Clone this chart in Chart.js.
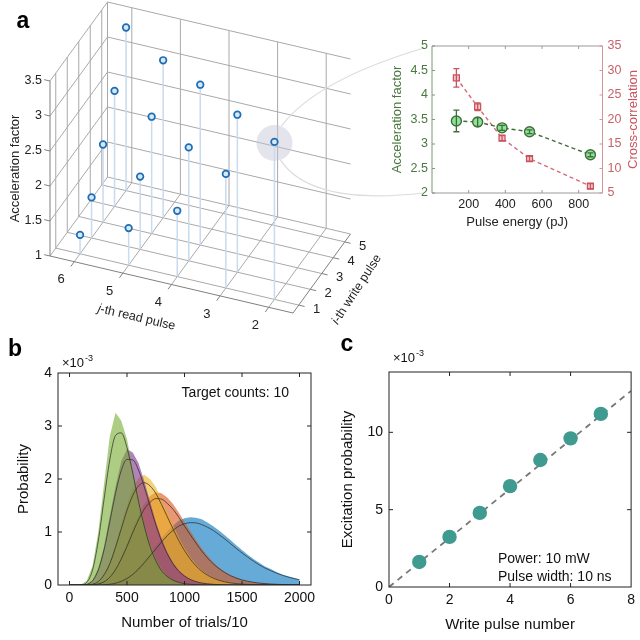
<!DOCTYPE html>
<html><head><meta charset="utf-8">
<script src="https://cdn.jsdelivr.net/npm/chart.js@4.4.0/dist/chart.umd.min.js"></script>
<style>
html,body{margin:0;padding:0;background:#fff;width:640px;height:640px;overflow:hidden}
canvas{position:absolute;left:0;top:0}
</style></head><body>
<canvas id="c3d" width="640" height="640"></canvas>
<canvas id="cin" width="640" height="640"></canvas>
<canvas id="cb" width="640" height="640"></canvas>
<canvas id="cc" width="640" height="640"></canvas>
<script>
// ================= DATA =================
// panel a (3D stem plot)
const writePulse  = [1,1,1,1,1, 2,2,2,2, 3,3,3, 4,4, 5];
const readPulse   = [2,3,4,5,6, 3,4,5,6, 4,5,6, 5,6, 6];
const accelFactor = [3.25,2.63,1.94,1.53,1.27, 3.25,2.62,2.04,1.58, 3.29,2.67,2.11, 3.25,2.65, 3.33];
const zTicks      = [1,1.5,2,2.5,3,3.5];
const readTicks   = [2,3,4,5,6];
const writeTicks  = [1,2,3,4,5];
const highlightIndex = 0; // write 1, read 2

// panel a inset
const pulseEnergy   = [133,249,382,532,864];
const accelVsEnergy = [3.47,3.45,3.33,3.25,2.78];
const accelErr      = [0.22,0.09,0.05,0.04,0.04];
const crossCorr     = [28.5,22.6,16.2,12.0,6.4];
const crossErr      = [1.9,0.8,0.5,0.5,0.5];
const energyTicks   = [200,400,600,800];
const accelTicks    = [2,2.5,3,3.5,4,4.5,5];
const crossTicks    = [5,10,15,20,25,30,35];

// panel b (histograms, units 1e-3)
const trialBins = [0,50,100,150,200,250,300,350,400,450,500,550,600,650,700,750,800,850,900,950,1000,
                   1050,1100,1150,1200,1250,1300,1350,1400,1450,1500,1550,1600,1650,1700,1750,1800,1850,1900,1950,2000];
const histGreen  = [0,0,0.01,0.08,0.36,1.0,1.9,2.8,3.25,3.1,2.75,2.2,1.68,1.16,0.78,0.5,0.3,0.17,0.1,0.055,0.03,0.015,0.007,0.003,0,0,0,0,0,0,0,0,0,0,0,0,0,0,0,0,0];
const histPurple = [0,0,0.002,0.016,0.09,0.31,0.72,1.3,1.86,2.34,2.56,2.5,2.3,1.96,1.58,1.2,0.88,0.62,0.42,0.28,0.18,0.11,0.068,0.04,0.024,0.014,0.008,0.004,0.002,0,0,0,0,0,0,0,0,0,0,0,0];
const histYellow = [0,0,0,0.003,0.018,0.07,0.21,0.43,0.77,1.15,1.52,1.83,2.02,2.08,2.0,1.85,1.62,1.38,1.13,0.9,0.7,0.53,0.39,0.28,0.2,0.14,0.095,0.064,0.042,0.028,0.018,0.012,0.008,0.005,0.003,0.002,0,0,0,0,0];
const histOrange = [0,0,0,0,0.005,0.021,0.066,0.16,0.31,0.53,0.79,1.07,1.33,1.53,1.68,1.75,1.73,1.65,1.53,1.37,1.19,1.02,0.85,0.69,0.55,0.43,0.33,0.25,0.19,0.14,0.1,0.075,0.054,0.039,0.028,0.02,0.014,0.01,0.007,0.005,0.003];
const histBlue   = [0,0,0,0,0,0.001,0.006,0.016,0.038,0.075,0.135,0.22,0.33,0.46,0.6,0.74,0.88,1.01,1.12,1.21,1.26,1.28,1.27,1.24,1.18,1.11,1.03,0.94,0.85,0.75,0.66,0.57,0.49,0.42,0.35,0.3,0.245,0.2,0.165,0.135,0.105];
const fitGreen   = [0,0,0.003,0.05,0.28,0.83,1.61,2.36,2.82,2.87,2.59,2.11,1.58,1.11,0.73,0.46,0.27,0.16,0.09,0.05,0.025,0.013,0.006,0.003,0,0,0,0,0,0,0,0,0,0,0,0,0,0,0,0,0];
const fitPurple  = [0,0,0.001,0.012,0.078,0.28,0.66,1.19,1.73,2.16,2.37,2.36,2.17,1.85,1.49,1.14,0.83,0.59,0.40,0.26,0.17,0.105,0.064,0.038,0.022,0.013,0.007,0.004,0.002,0,0,0,0,0,0,0,0,0,0,0,0];
const fitYellow  = [0,0,0,0.002,0.015,0.065,0.19,0.40,0.71,1.06,1.41,1.69,1.87,1.93,1.87,1.73,1.52,1.29,1.06,0.84,0.65,0.49,0.36,0.26,0.185,0.13,0.088,0.059,0.039,0.026,0.017,0.011,0.007,0.004,0.003,0.002,0,0,0,0,0];
const fitOrange  = [0,0,0,0,0.004,0.019,0.06,0.146,0.29,0.49,0.73,0.99,1.23,1.43,1.56,1.63,1.62,1.54,1.43,1.28,1.11,0.95,0.79,0.64,0.51,0.40,0.31,0.235,0.176,0.13,0.096,0.07,0.05,0.036,0.026,0.018,0.013,0.009,0.006,0.004,0.003];
const fitBlue    = [0,0,0,0,0,0.001,0.005,0.014,0.034,0.069,0.124,0.20,0.30,0.42,0.55,0.68,0.81,0.93,1.03,1.11,1.155,1.176,1.171,1.14,1.09,1.03,0.95,0.87,0.78,0.69,0.605,0.525,0.45,0.38,0.32,0.27,0.224,0.184,0.15,0.122,0.098];
const trialTicks = [0,500,1000,1500,2000];
const probTicks  = [0,1,2,3,4];

// panel c
const writeNumber   = [1,2,3,4,5,6,7];
const excitationProb= [1.62,3.24,4.79,6.52,8.21,9.61,11.19];
const fitLineX      = [0,8];
const fitLineY      = [0,12.68];
const writeNumTicks = [0,2,4,6,8];
const excTicks      = [0,5,10];

// ================= STYLE / HELPERS =================
const FONT = "'Liberation Sans', Arial, Helvetica, sans-serif";
Chart.defaults.font.family = FONT;
Chart.defaults.animation = false;
const baseOpts = {responsive:false, animation:false, events:[], plugins:{legend:{display:false}, tooltip:{enabled:false}}};
const setTicks = vals => s => { s.ticks = vals.map(v => ({value:v})); };
const plainLabel = v => String(v);
const pts = (xs, ys) => xs.map((x,k) => ({x, y:ys[k]}));

function drawExp(ctx, x, y, color){
  ctx.save(); ctx.fillStyle = color || '#111'; ctx.textBaseline='alphabetic'; ctx.textAlign='left';
  ctx.font = '13px ' + FONT; ctx.fillText('×10', x, y);
  const w = ctx.measureText('×10').width;
  ctx.font = '9px ' + FONT; ctx.fillText('-3', x + w + 1, y - 6);
  ctx.restore();
}
function panelLabel(ctx, t, x, y){
  ctx.save(); ctx.font = 'bold 23px ' + FONT; ctx.fillStyle = '#000';
  ctx.textAlign='center'; ctx.textBaseline='middle'; ctx.fillText(t, x, y); ctx.restore();
}
function frameWithTicks(chart, xs, ys, color){
  const {ctx, chartArea:a} = chart;
  const X = chart.scales.x, Y = chart.scales.y;
  ctx.save(); ctx.strokeStyle = color; ctx.lineWidth = 1;
  ctx.strokeRect(a.left, a.top, a.right - a.left, a.bottom - a.top);
  ctx.beginPath();
  xs.forEach(v => { const p = X.getPixelForValue(v); if (p > a.left+1 && p < a.right-1){ ctx.moveTo(p, a.bottom); ctx.lineTo(p, a.bottom-4); ctx.moveTo(p, a.top); ctx.lineTo(p, a.top+4);} });
  ys.forEach(v => { const p = Y.getPixelForValue(v); if (p > a.top+1 && p < a.bottom-1){ ctx.moveTo(a.left, p); ctx.lineTo(a.left+4, p); ctx.moveTo(a.right, p); ctx.lineTo(a.right-4, p);} });
  ctx.stroke(); ctx.restore();
}

// ================= INSET (panel a, right) =================
const GREEN_D = '#3f6e37', GREEN_F = '#8ee29b', RED_D = '#c8545f', RED_F = '#f6c8cb';
const insetPlugin = {
  id:'insetDeco',
  afterDatasetsDraw(chart){
    const {ctx} = chart;
    const X = chart.scales.x, L = chart.scales.yL, R = chart.scales.yR;
    ctx.save(); ctx.lineWidth = 1.3;
    const eb = (xs, ys, es, sc, col) => {
      ctx.strokeStyle = col; ctx.beginPath();
      xs.forEach((x,k) => {
        const px = X.getPixelForValue(x), p1 = sc.getPixelForValue(ys[k]-es[k]), p2 = sc.getPixelForValue(ys[k]+es[k]);
        ctx.moveTo(px, p1); ctx.lineTo(px, p2);
        ctx.moveTo(px-3, p1); ctx.lineTo(px+3, p1); ctx.moveTo(px-3, p2); ctx.lineTo(px+3, p2);
      });
      ctx.stroke();
    };
    eb(pulseEnergy, accelVsEnergy, accelErr, L, GREEN_D);
    eb(pulseEnergy, crossCorr, crossErr, R, RED_D);
    ctx.restore();
  },
  afterDraw(chart){
    const {ctx, chartArea:a} = chart;
    const X = chart.scales.x, L = chart.scales.yL, R = chart.scales.yR;
    ctx.save(); ctx.lineWidth = 1;
    ctx.strokeStyle = '#9a9a9a';
    ctx.beginPath(); ctx.moveTo(a.left, a.top); ctx.lineTo(a.right, a.top); ctx.moveTo(a.left, a.bottom); ctx.lineTo(a.right, a.bottom); ctx.stroke();
    ctx.strokeStyle = '#7d9a74'; ctx.beginPath(); ctx.moveTo(a.left, a.top); ctx.lineTo(a.left, a.bottom); ctx.stroke();
    ctx.strokeStyle = '#d5959b'; ctx.beginPath(); ctx.moveTo(a.right, a.top); ctx.lineTo(a.right, a.bottom); ctx.stroke();
    ctx.strokeStyle = '#9a9a9a'; ctx.beginPath();
    energyTicks.forEach(v => { const p = X.getPixelForValue(v); ctx.moveTo(p, a.bottom); ctx.lineTo(p, a.bottom-3); ctx.moveTo(p, a.top); ctx.lineTo(p, a.top+3); });
    ctx.stroke();
    ctx.strokeStyle = '#7d9a74'; ctx.beginPath();
    accelTicks.forEach(v => { const p = L.getPixelForValue(v); ctx.moveTo(a.left, p); ctx.lineTo(a.left+3, p); }); ctx.stroke();
    ctx.strokeStyle = '#d5959b'; ctx.beginPath();
    crossTicks.forEach(v => { const p = R.getPixelForValue(v); ctx.moveTo(a.right, p); ctx.lineTo(a.right-3, p); }); ctx.stroke();
    ctx.translate(633.5, (a.top + a.bottom)/2); ctx.rotate(-Math.PI/2);
    ctx.font = '13px ' + FONT; ctx.fillStyle = RED_D; ctx.textAlign='center'; ctx.textBaseline='middle';
    ctx.fillText('Cross-correlation', 0, 0);
    ctx.restore();
  }
};
const insetChart = new Chart(document.getElementById('cin'), {
  type:'line',
  data:{datasets:[
    {data:pts(pulseEnergy, accelVsEnergy), yAxisID:'yL', borderColor:GREEN_D, borderWidth:1.4, borderDash:[4,3],
     pointStyle:'circle', pointRadius:5, pointBackgroundColor:GREEN_F, pointBorderColor:GREEN_D, pointBorderWidth:1.4, fill:false, tension:0, order:0},
    {data:pts(pulseEnergy, crossCorr), yAxisID:'yR', borderColor:'#d66b76', borderWidth:1.4, borderDash:[4,3],
     pointStyle:'rect', pointRadius:4.2, pointBackgroundColor:RED_F, pointBorderColor:RED_D, pointBorderWidth:1.3, fill:false, tension:0, order:1}
  ]},
  options:{...baseOpts,
    layout:{autoPadding:false, padding:{left:390, right:0, top:46, bottom:410}},
    scales:{
      x:{type:'linear', min:0, max:930, afterBuildTicks:setTicks(energyTicks), afterFit:s=>{s.height=37;},
         grid:{display:false, drawTicks:false}, border:{display:false},
         ticks:{padding:4, color:'#222', font:{size:12.5}, autoSkip:false, maxRotation:0, callback:plainLabel},
         title:{display:true, text:'Pulse energy (pJ)', color:'#222', font:{size:13}, padding:{top:0,bottom:0}}},
      yL:{type:'linear', position:'left', min:2, max:5, afterBuildTicks:setTicks(accelTicks), afterFit:s=>{s.width=42;},
         grid:{display:false, drawTicks:false}, border:{display:false},
         ticks:{padding:4, color:'#4a7a40', font:{size:12.5}, autoSkip:false, callback:plainLabel},
         title:{display:true, text:'Acceleration factor', color:'#4a7a40', font:{size:13}, padding:{top:0,bottom:0}}},
      yR:{type:'linear', position:'right', min:5, max:35, afterBuildTicks:setTicks(crossTicks), afterFit:s=>{s.width=37.5;},
         grid:{display:false, drawTicks:false}, border:{display:false},
         ticks:{padding:5, color:'#c8626b', font:{size:12.5}, autoSkip:false, callback:plainLabel},
         title:{display:false}}
    }
  },
  plugins:[insetPlugin]
});

// ================= 3D STEM PLOT (panel a) =================
const J0 = 6.5, I0 = 0.5, Z0 = 1, J1 = 1.5, I1 = 5.5, Z1 = 3.5;
const ORIGIN = [50, 256], EJ = [-48.6, -11.4], EI = [11.5, -15.8], EZ = [0, -70];
function proj(j, i, z){
  return {x: ORIGIN[0] + (j-J0)*EJ[0] + (i-I0)*EI[0] + (z-Z0)*EZ[0],
          y: ORIGIN[1] + (j-J0)*EJ[1] + (i-I0)*EI[1] + (z-Z0)*EZ[1]};
}
const plot3d = {
  id:'p3d',
  beforeDatasetsDraw(chart){
    const ctx = chart.ctx, sx = chart.scales.x, sy = chart.scales.y;
    const P = (j,i,z) => { const p = proj(j,i,z); return [sx.getPixelForValue(p.x), sy.getPixelForValue(p.y)]; };
    const seg = (a, b) => { const p = P(...a), q = P(...b); ctx.moveTo(p[0], p[1]); ctx.lineTo(q[0], q[1]); };
    ctx.save();
    ctx.strokeStyle = '#a9a9a9'; ctx.lineWidth = 1; ctx.beginPath();
    writeTicks.forEach(i => seg([J0,i,Z0],[J1,i,Z0]));
    readTicks.forEach(j => seg([j,I0,Z0],[j,I1,Z0]));
    readTicks.forEach(j => seg([j,I1,Z0],[j,I1,Z1]));
    zTicks.forEach(z => seg([J0,I1,z],[J1,I1,z]));
    writeTicks.forEach(i => seg([J0,i,Z0],[J0,i,Z1]));
    zTicks.forEach(z => seg([J0,I0,z],[J0,I1,z]));
    seg([J0,I1,Z0],[J0,I1,Z1]);
    ctx.stroke();
    ctx.strokeStyle = '#808080'; ctx.beginPath();
    seg([J0,I0,Z0],[J0,I0,Z1]);
    seg([J0,I0,Z0],[J1,I0,Z0]);
    seg([J1,I0,Z0],[J1,I1,Z0]);
    zTicks.forEach(z => seg([J0,I0,z],[J0+0.12,I0,z]));
    readTicks.forEach(j => seg([j,I0,Z0],[j,I0-0.3,Z0]));
    writeTicks.forEach(i => seg([J1,i,Z0],[J1-0.12,i,Z0]));
    ctx.stroke();
    const h = P(readPulse[highlightIndex], writePulse[highlightIndex], accelFactor[highlightIndex]);
    ctx.fillStyle = 'rgba(196,196,214,0.45)';
    ctx.beginPath(); ctx.arc(h[0], h[1]+1, 18, 0, 2*Math.PI); ctx.fill();
    const ia = insetChart.chartArea;
    ctx.strokeStyle = '#dcdcdc'; ctx.lineWidth = 1.2; ctx.beginPath();
    ctx.moveTo(h[0]+7, h[1]-16); ctx.quadraticCurveTo(h[0]+42, h[1]-62, ia.left-8, ia.top+2);
    ctx.moveTo(h[0]+6, h[1]+18); ctx.quadraticCurveTo(h[0]+36, h[1]+64, ia.left-8, ia.bottom);
    ctx.stroke();
    ctx.strokeStyle = '#c9dbef'; ctx.lineWidth = 1.5; ctx.beginPath();
    readPulse.forEach((j,k) => seg([j, writePulse[k], Z0],[j, writePulse[k], accelFactor[k]]));
    ctx.stroke();
    ctx.restore();
  },
  afterDraw(chart){
    const ctx = chart.ctx, sx = chart.scales.x, sy = chart.scales.y;
    const P = (j,i,z) => { const p = proj(j,i,z); return [sx.getPixelForValue(p.x), sy.getPixelForValue(p.y)]; };
    ctx.save(); ctx.fillStyle = '#222';
    ctx.font = '12.5px ' + FONT; ctx.textAlign = 'right'; ctx.textBaseline = 'middle';
    zTicks.forEach(z => { const p = P(J0,I0,z); ctx.fillText(String(z), p[0]-8, p[1]); });
    ctx.font = '13px ' + FONT; ctx.textAlign = 'center';
    readTicks.forEach(j => { const p = P(j, I0-1.15, Z0); ctx.fillText(String(j), p[0], p[1]); });
    writeTicks.forEach(i => { const p = P(J1-0.37, i, Z0); ctx.fillText(String(i), p[0], p[1]); });
    const zc = P(J0, I0, (Z0+Z1)/2);
    ctx.save(); ctx.translate(zc[0]-35, zc[1]); ctx.rotate(-Math.PI/2);
    ctx.font = '13px ' + FONT; ctx.fillText('Acceleration factor', 0, 0); ctx.restore();
    const italTitle = (x, y, ang, it, rest) => {
      ctx.save(); ctx.translate(x, y); ctx.rotate(ang); ctx.textAlign = 'left';
      ctx.font = 'italic 12.5px ' + FONT; const w1 = ctx.measureText(it).width;
      ctx.font = '12.5px ' + FONT; const w2 = ctx.measureText(rest).width;
      const x0 = -(w1 + w2)/2;
      ctx.font = 'italic 12.5px ' + FONT; ctx.fillText(it, x0, 0);
      ctx.font = '12.5px ' + FONT; ctx.fillText(rest, x0 + w1, 0);
      ctx.restore();
    };
    const rc = P((J0+J1)/2, I0, Z0);
    italTitle(rc[0]-35, rc[1]+33, Math.atan2(-EJ[1], -EJ[0]), 'j', '-th read pulse');
    const wc = P(J1, (I0+I1)/2, Z0);
    italTitle(wc[0]+35, wc[1]+16, -57*Math.PI/180, 'i', '-th write pulse');
    ctx.restore();
    panelLabel(ctx, 'a', 23, 22);
  }
};
new Chart(document.getElementById('c3d'), {
  type:'scatter',
  data:{datasets:[{
    data: readPulse.map((j,k) => proj(j, writePulse[k], accelFactor[k])),
    pointStyle:'circle', pointRadius:3.3, pointBorderWidth:1.7,
    pointBorderColor:'#1d6db6', pointBackgroundColor:'#d7e9f8', showLine:false
  }]},
  options:{...baseOpts,
    layout:{autoPadding:false, padding:0},
    scales:{
      x:{type:'linear', min:0, max:640, display:false},
      y:{type:'linear', min:0, max:640, reverse:true, display:false}
    }
  },
  plugins:[plot3d]
});

// ================= PANEL B =================
const HCOL = {
  green:'rgba(119,172,48,0.6)', purple:'rgba(126,47,142,0.6)', yellow:'rgba(237,177,32,0.6)',
  orange:'rgba(217,83,25,0.6)', blue:'rgba(0,114,189,0.6)'
};
const histDs = (ys, col, ord) => ({data:pts(trialBins, ys), borderWidth:0, borderColor:'rgba(0,0,0,0)', backgroundColor:col,
  fill:'origin', pointRadius:0, tension:0, order:ord});
const fitDs = ys => ({data:pts(trialBins, ys), borderWidth:1, borderColor:'rgba(40,40,40,0.7)', fill:false,
  pointRadius:0, tension:0.4, cubicInterpolationMode:'monotone', order:0});
new Chart(document.getElementById('cb'), {
  type:'line',
  data:{datasets:[
    fitDs(fitGreen), fitDs(fitPurple), fitDs(fitYellow), fitDs(fitOrange), fitDs(fitBlue),
    histDs(histGreen, HCOL.green, 1), histDs(histPurple, HCOL.purple, 2), histDs(histYellow, HCOL.yellow, 3),
    histDs(histOrange, HCOL.orange, 4), histDs(histBlue, HCOL.blue, 5)
  ]},
  options:{...baseOpts,
    layout:{autoPadding:false, padding:{left:15, right:329, top:373, bottom:8}},
    scales:{
      x:{type:'linear', min:-100, max:2100, afterBuildTicks:setTicks(trialTicks), afterFit:s=>{s.height=47;},
         grid:{display:false, drawTicks:false}, border:{display:false},
         ticks:{padding:5, color:'#111', font:{size:14}, autoSkip:false, maxRotation:0, callback:plainLabel},
         title:{display:true, text:'Number of trials/10', color:'#111', font:{size:15}, padding:{top:0,bottom:0}}},
      y:{type:'linear', min:0, max:4, afterBuildTicks:setTicks(probTicks), afterFit:s=>{s.width=43;},
         grid:{display:false, drawTicks:false}, border:{display:false},
         ticks:{padding:6, color:'#111', font:{size:14}, autoSkip:false, callback:plainLabel},
         title:{display:true, text:'Probability', color:'#111', font:{size:15}, padding:{top:0,bottom:0}}}
    }
  },
  plugins:[{id:'bDeco', afterDraw(chart){
    frameWithTicks(chart, trialTicks, probTicks, '#222');
    const {ctx, chartArea:a} = chart;
    ctx.save(); ctx.font = '14px ' + FONT; ctx.fillStyle = '#111'; ctx.textAlign = 'right'; ctx.textBaseline = 'middle';
    ctx.fillText('Target counts: 10', a.right - 22, a.top + 20); ctx.restore();
    drawExp(ctx, a.left + 4, a.top - 6);
    panelLabel(ctx, 'b', 15, 350);
  }}]
});

// ================= PANEL C =================
new Chart(document.getElementById('cc'), {
  type:'scatter',
  data:{datasets:[
    {data:pts(writeNumber, excitationProb), pointStyle:'circle', pointRadius:7.2, pointBorderWidth:0,
     pointBackgroundColor:'#3f9b8f', showLine:false, order:0},
    {data:pts(fitLineX, fitLineY), showLine:true, borderColor:'#777', borderWidth:1.8, borderDash:[6,5],
     pointRadius:0, fill:false, order:1}
  ]},
  options:{...baseOpts,
    layout:{autoPadding:false, padding:{left:339, right:7, top:372, bottom:6}},
    scales:{
      x:{type:'linear', min:0, max:8, afterBuildTicks:setTicks(writeNumTicks), afterFit:s=>{s.height=47;},
         grid:{display:false, drawTicks:false}, border:{display:false},
         ticks:{padding:5, color:'#111', font:{size:14}, autoSkip:false, maxRotation:0, callback:plainLabel},
         title:{display:true, text:'Write pulse number', color:'#111', font:{size:15}, padding:{top:0,bottom:0}}},
      y:{type:'linear', min:0, max:13.9, afterBuildTicks:setTicks(excTicks), afterFit:s=>{s.width=50;},
         grid:{display:false, drawTicks:false}, border:{display:false},
         ticks:{padding:6, color:'#111', font:{size:14}, autoSkip:false, callback:plainLabel},
         title:{display:true, text:'Excitation probability', color:'#111', font:{size:15}, padding:{top:0,bottom:0}}}
    }
  },
  plugins:[{id:'cDeco', afterDraw(chart){
    frameWithTicks(chart, writeNumTicks, excTicks, '#222');
    const {ctx, chartArea:a} = chart;
    ctx.save(); ctx.font = '14px ' + FONT; ctx.fillStyle = '#111'; ctx.textAlign = 'left'; ctx.textBaseline = 'middle';
    ctx.fillText('Power: 10 mW', a.left + 109, a.bottom - 28);
    ctx.fillText('Pulse width: 10 ns', a.left + 109, a.bottom - 10);
    ctx.restore();
    drawExp(ctx, a.left + 4, a.top - 10);
    panelLabel(ctx, 'c', 347, 345);
  }}]
});
</script>
</body></html>
